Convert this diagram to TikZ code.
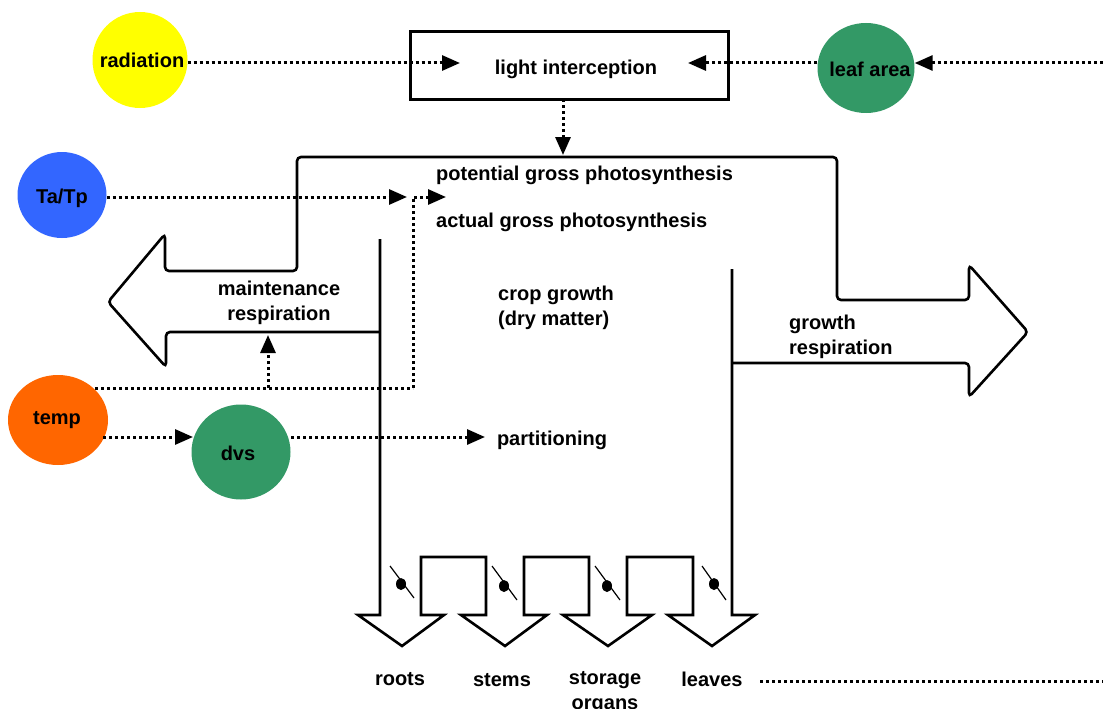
\documentclass[tikz,border=0pt]{standalone}
\usepackage{fontspec}
\setmainfont{Liberation Sans}
\usetikzlibrary{arrows.meta,shapes.geometric}
\definecolor{cyellow}{RGB}{255,255,0}
\definecolor{cgreen}{RGB}{51,153,102}
\definecolor{cblue}{RGB}{51,102,255}
\definecolor{corange}{RGB}{255,102,0}
\tikzset{
  lbl/.style={font=\fontsize{20}{25}\selectfont\bfseries, inner sep=0pt, align=left},
  bubble/.style={ellipse, draw=none, inner sep=0pt},
  dotline/.style={line width=3pt, dash pattern=on 3pt off 3pt},
  dotarrow/.style={dotline, -{Triangle[length=18pt,width=15pt]}},
  outline/.style={line width=2.6pt, line join=miter},
}
\begin{document}
\begin{tikzpicture}[x=1pt,y=-1pt]
\useasboundingbox (0,0) rectangle (1103,709);
\fill[white] (0,0) rectangle (1103,709);

% bubbles
\node[bubble, fill=cyellow, minimum width=95pt, minimum height=96pt] (rad) at (140,60) {};
\node[bubble, fill=cgreen, minimum width=97pt, minimum height=90pt] (leaf) at (866,68) {};
\node[bubble, fill=cblue, minimum width=89pt, minimum height=86pt] (tatp) at (62,195) {};
\node[bubble, fill=corange, minimum width=100pt, minimum height=90pt] (temp) at (58,420) {};
\node[bubble, fill=cgreen, minimum width=99pt, minimum height=95pt] (dvs) at (241,452) {};
\node[lbl] (radt) at (142,60) {radiation};
\node[lbl] (leaft) at (870,69) {leaf area};
\node[lbl] (tatpt) at (62,198) {Ta/Tp};
\node[lbl] (tempt) at (57,420) {temp};
\node[lbl] (dvst) at (238,453) {dvs};

% light interception box
\node[draw, line width=3pt, minimum width=318pt, minimum height=67pt, inner sep=0pt] (box) at (569,65.5) {};
\node[lbl] (boxt) at (576,69) {light interception};

% texts
\node[lbl, anchor=west] (pot) at (436,175) {potential gross photosynthesis};
\node[lbl, anchor=west] (act) at (436,222) {actual gross photosynthesis};
\node[lbl, align=center] (maint) at (279,303) {maintenance\\respiration};
\node[lbl, anchor=west] (crop) at (498,308) {crop growth\\(dry matter)};
\node[lbl, anchor=west] (grow) at (789,337) {growth\\respiration};
\node[lbl] (part) at (552,440) {partitioning};
\node[lbl] (roots) at (400,679) {roots};
\node[lbl] (stems) at (502,680) {stems};
\node[lbl, align=center, anchor=north] (stor) at (605,671) {storage\\organs};
\node[lbl] (leaves) at (712,679) {leaves};

% main flow outline: maintenance arrow, top, growth arrow
\draw[outline, rounded corners=4pt]
  (380,332) -- (166,332) -- (166,367) -- (108,302) -- (165,234) -- (165,271)
  -- (297,271) -- (297,157) -- (837,157) -- (837,300) -- (969,300)
  -- (969,265) -- (1028,332) -- (969,397) -- (969,363) -- (732,363);

% partition arrows at bottom
\draw[outline]
  (380,239) -- (380,615) -- (358,615) -- (402,646) -- (444,615) -- (421,615)
  -- (421,557) -- (486,557) -- (486,615) -- (461,615) -- (505,646) -- (547,615)
  -- (524,615) -- (524,557) -- (589,557) -- (589,615) -- (563,615) -- (608,646)
  -- (652,615) -- (627,615) -- (627,557) -- (693,557) -- (693,615) -- (668,615)
  -- (712,646) -- (755,615) -- (732,615) -- (732,269);

% valves
\foreach \a/\b/\c/\d/\ex/\ey in {390/566/414/598/401/584, 492/566/517/600/504/586,
                                  595/566/620/600/607/586, 702/566/726/600/714/584}{
  \draw[line width=1.2pt] (\a,\b) -- (\c,\d);
  \fill (\ex,\ey) ellipse (5pt and 6pt);
}

% coordinates for connector ends
\coordinate (radtip) at (460,63);
\coordinate (leaftip) at (688,63);
\coordinate (rightedge) at (1103,63);
\coordinate (boxout) at (563,99);
\coordinate (phtip) at (563,155);
\coordinate (tatptip) at (407,197);
\coordinate (corner1) at (413,388);
\coordinate (corner2) at (413,197);
\coordinate (acttip) at (446,197);
\coordinate (maintip) at (268,335);
\coordinate (branch) at (268,388);
\coordinate (tempout) at (95,388);
\coordinate (tempout2) at (103,437);
\coordinate (dvsin) at (193,437);
\coordinate (dvsout) at (291,437);
\coordinate (parttip) at (485,437);
\coordinate (leavesout) at (760,681);
\coordinate (rightedge2) at (1103,681);

% dotted connectors
\draw[dotarrow] (rad.east |- radtip) -- (radtip);
\draw[dotarrow] (leaf.west |- leaftip) -- (leaftip);
\draw[dotarrow] (rightedge) -- (leaf.east |- rightedge);
\draw[dotarrow] (boxout) -- (phtip);
\draw[dotarrow] (tatp.east |- tatptip) -- (tatptip);
\draw[dotline] (tempout) -- (corner1);
\draw[dotarrow] (corner1) -- (corner2) -- (acttip);
\draw[dotarrow] (branch) -- (maintip);
\draw[dotarrow] (tempout2) -- (dvsin);
\draw[dotarrow] (dvsout) -- (parttip);
\draw[dotline] (leavesout) -- (rightedge2);
\end{tikzpicture}
\end{document}
